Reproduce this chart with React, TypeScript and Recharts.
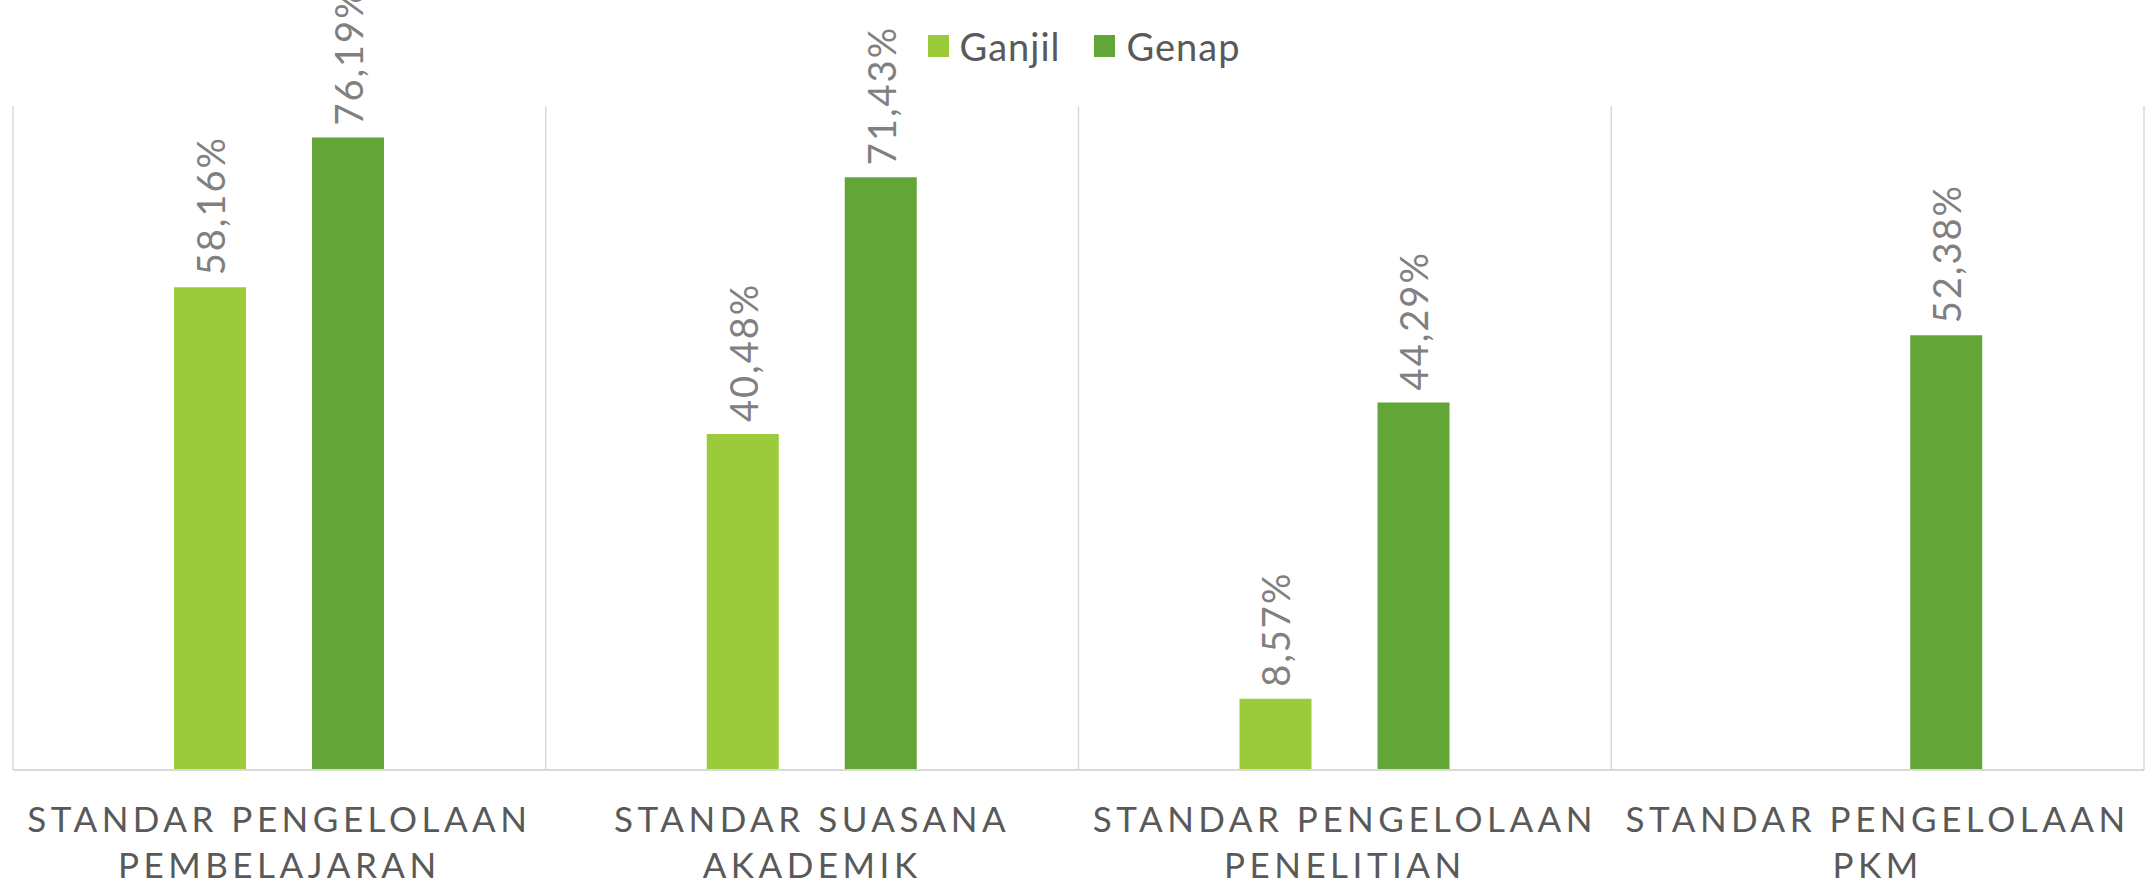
import React from 'react';
import {
  Bar,
  BarChart,
  CartesianGrid,
  LabelList,
  Legend,
  XAxis,
  YAxis,
} from 'recharts';

const categories = [
  'STANDAR PENGELOLAAN PEMBELAJARAN',
  'STANDAR SUASANA AKADEMIK',
  'STANDAR PENGELOLAAN PENELITIAN',
  'STANDAR PENGELOLAAN PKM',
];
const ganjil: (number | null)[] = [58.16, 40.48, 8.57, null];
const genap: (number | null)[] = [76.19, 71.43, 44.29, 52.38];

const FONT = 'Lato, "DejaVu Sans", sans-serif';
const GANJIL_COLOR = '#9BCB3B';
const GENAP_COLOR = '#63A537';

const data = categories.map((name, i) => ({ name, ganjil: ganjil[i], genap: genap[i] }));

const fmt = (v: number) => v.toFixed(2).replace('.', ',') + '%';

// vertical grid lines sit on the category boundaries, not on the tick centres
const boundaryLines = ({ offset }: any) =>
  Array.from({ length: categories.length + 1 }, (_, i) => offset.left + (i * offset.width) / categories.length);

function BarValue(props: any) {
  const { x, y, width, value } = props;
  if (value == null) return null;
  const cx = Number(x) + Number(width) / 2;
  const ty = Number(y) - 12;
  return (
    <text
      x={cx}
      y={ty}
      transform={`rotate(-90 ${cx} ${ty})`}
      textAnchor="start"
      dominantBaseline="central"
      fill="#808080"
      fontSize={38}
      fontFamily={FONT}
      letterSpacing={2}
    >
      {fmt(value)}
    </text>
  );
}

function CategoryTick(props: any) {
  const { x, y, payload } = props;
  const text: string = payload.value;
  const cut = text.lastIndexOf(' ');
  const lines = [text.slice(0, cut), text.slice(cut + 1)];
  return (
    <text
      x={x}
      y={y}
      textAnchor="middle"
      fill="#595959"
      fontSize={35}
      fontFamily={FONT}
      letterSpacing={4.5}
    >
      {lines.map((l, i) => (
        <tspan key={i} x={x} dy={i === 0 ? 62 : 46}>
          {l}
        </tspan>
      ))}
    </text>
  );
}

function LegendContent() {
  const items = [
    { label: 'Ganjil', color: GANJIL_COLOR },
    { label: 'Genap', color: GENAP_COLOR },
  ];
  return (
    <div style={{ display: 'flex', justifyContent: 'center', alignItems: 'center', paddingLeft: 14 }}>
      {items.map((it, i) => (
        <div
          key={it.label}
          style={{ display: 'flex', alignItems: 'center', marginLeft: i === 0 ? 0 : 34 }}
        >
          <span style={{ width: 21, height: 22, background: it.color, display: 'inline-block' }} />
          <span
            style={{
              marginLeft: 11,
              fontSize: 38,
              letterSpacing: 1,
              color: '#595959',
              fontFamily: FONT,
              lineHeight: '40px',
            }}
          >
            {it.label}
          </span>
        </div>
      ))}
    </div>
  );
}

export default function App() {
  return (
    <div style={{ position: 'absolute', left: 0, top: 0, background: '#fff' }}>
      <BarChart
        width={2154}
        height={883}
        data={data}
        margin={{ top: 106, right: 10, left: 13, bottom: 0 }}
        barSize={72}
        barGap={66}
      >
        <CartesianGrid
          horizontal={false}
          stroke="#d9d9d9"
          strokeWidth={1.5}
          verticalCoordinatesGenerator={boundaryLines}
        />
        <XAxis
          dataKey="name"
          height={113}
          tickLine={false}
          tickSize={0}
          tickMargin={0}
          interval={0}
          axisLine={{ stroke: '#d9d9d9', strokeWidth: 2 }}
          tick={<CategoryTick />}
        />
        <YAxis domain={[0, 80]} hide />
        <Legend
          layout="horizontal"
          verticalAlign="middle"
          align="center"
          wrapperStyle={{ top: 26, left: 0, width: 2154 }}
          content={<LegendContent />}
        />
        <Bar dataKey="ganjil" name="Ganjil" fill={GANJIL_COLOR} isAnimationActive={false}>
          <LabelList dataKey="ganjil" content={<BarValue />} />
        </Bar>
        <Bar dataKey="genap" name="Genap" fill={GENAP_COLOR} isAnimationActive={false}>
          <LabelList dataKey="genap" content={<BarValue />} />
        </Bar>
      </BarChart>
    </div>
  );
}
